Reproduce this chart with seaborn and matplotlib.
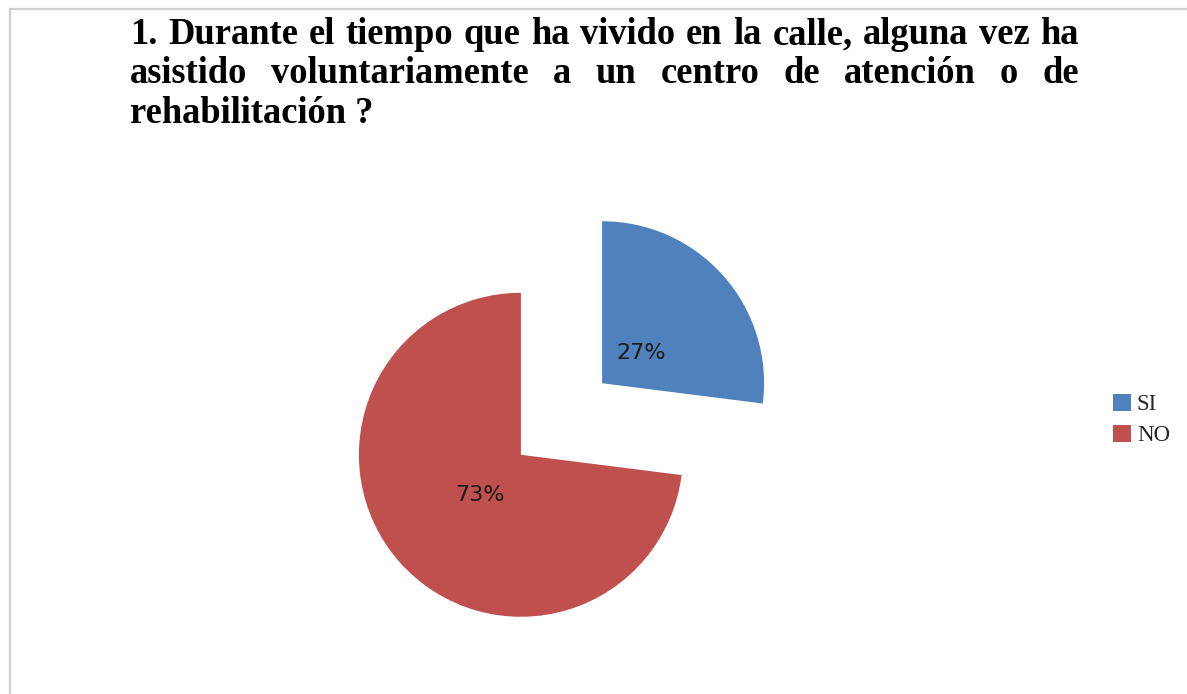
import numpy as np
import pandas as pd
import matplotlib
matplotlib.use("Agg")
import matplotlib.pyplot as plt
import seaborn as sns
from matplotlib.lines import Line2D

# Data
categories = ["SI", "NO"]
shares = [27, 73]
title_lines = [
    "1. Durante el tiempo que ha vivido en la calle, alguna vez ha",
    "asistido voluntariamente a un centro de atención o de",
    "rehabilitación ?",
]

sns.set_theme(style="white")
plt.rcParams['font.family'] = ['DejaVu Sans']
palette = sns.color_palette(["#4F81BD", "#C0504D"])

W, H = 1187, 694
fig = plt.figure(figsize=(W / 100, H / 100), dpi=100)
fig.patch.set_facecolor("white")

# Pie: radius 162 px, centre at (561.5, 419) px from top-left
r_px = 162
cx, cy = 561.5, H - 419
lim = 1.5
size = 2 * lim * r_px
ax = fig.add_axes([(cx - size / 2) / W, (cy - size / 2) / H, size / W, size / H])

df = pd.DataFrame({"respuesta": categories, "pct": shares})
wedges, texts, autotexts = ax.pie(
    df["pct"], colors=palette, startangle=90, counterclock=False,
    explode=[0.334, 0.334], autopct="%1.0f%%", pctdistance=0.33,
    textprops={"fontsize": 16, "color": "#1a1a1a"},
    wedgeprops={"linewidth": 0},
)
# nudge percentage labels slightly down, like the original
for t in autotexts:
    px, py = t.get_position()
    t.set_position((px - 0.005, py - 0.032))
ax.set_xlim(-lim, lim)
ax.set_ylim(-lim, lim)
ax.set_aspect("equal")
ax.axis("off")

# Legend
fig.legend(wedges, df["respuesta"], loc="center left",
           bbox_to_anchor=(1113 / W, (H - 420) / H), frameon=False,
           prop={"family": "Liberation Serif", "size": 16.5},
           handlelength=0.78, handleheight=0.78, handletextpad=0.26,
           labelspacing=0.4, borderpad=0, borderaxespad=0)

# Justified bold serif title
x0, x1 = 130, 1079
baselines = [44, 83, 123]
renderer = fig.canvas.get_renderer()
tprops = dict(family="Liberation Serif", weight="bold", size=26.3, color="black")
for i, line in enumerate(title_lines):
    y = (H - baselines[i]) / H
    if i == len(title_lines) - 1:
        fig.text(x0 / W, y, line, ha="left", va="baseline", **tprops)
        continue
    words = line.split(" ")
    tmp = [fig.text(0, 0, w, **tprops) for w in words]
    widths = [t.get_window_extent(renderer).width for t in tmp]
    for t in tmp:
        t.remove()
    gap = (x1 - x0 - sum(widths)) / (len(words) - 1)
    x = x0
    for w, wd in zip(words, widths):
        fig.text(x / W, y, w, ha="left", va="baseline", **tprops)
        x += wd + gap

# Chart area border (left and top edges visible)
border = "#D0D0D0"
fig.add_artist(Line2D([10 / W, 10 / W], [0, (H - 9) / H], color=border, lw=1.6))
fig.add_artist(Line2D([10 / W, 1], [(H - 9) / H, (H - 9) / H], color=border, lw=1.6))

fig.savefig("out.png", dpi=100, facecolor="white")
